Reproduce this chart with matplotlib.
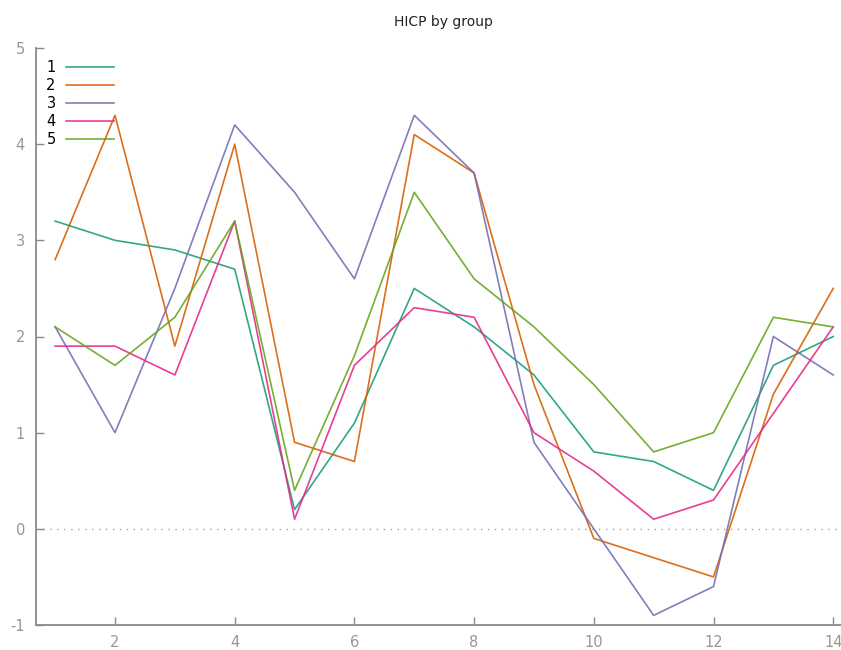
import matplotlib
matplotlib.use('Agg')
import matplotlib.pyplot as plt

plt.rcParams['axes.unicode_minus'] = False

# --- data ---
x = list(range(1, 15))
g1 = [3.2, 3.0, 2.9, 2.7, 0.2, 1.1, 2.5, 2.1, 1.6, 0.8, 0.7, 0.4, 1.7, 2.0]
g2 = [2.8, 4.3, 1.9, 4.0, 0.9, 0.7, 4.1, 3.7, 1.5, -0.1, -0.3, -0.5, 1.4, 2.5]
g3 = [2.1, 1.0, 2.5, 4.2, 3.5, 2.6, 4.3, 3.7, 0.9, 0.0, -0.9, -0.6, 2.0, 1.6]
g4 = [1.9, 1.9, 1.6, 3.2, 0.1, 1.7, 2.3, 2.2, 1.0, 0.6, 0.1, 0.3, 1.2, 2.1]
g5 = [2.1, 1.7, 2.2, 3.2, 0.4, 1.8, 3.5, 2.6, 2.1, 1.5, 0.8, 1.0, 2.2, 2.1]
labels = ['1', '2', '3', '4', '5']
colors = ['#1b9e77', '#d95f02', '#7570b3', '#e7298a', '#66a61e']

fig = plt.figure(figsize=(8.41, 6.5), dpi=100)
ax = fig.add_axes([36 / 841, 25 / 650, 805 / 841, 577 / 650])

for ys, lab, c in zip([g1, g2, g3, g4, g5], labels, colors):
    ax.plot(x, ys, color=c, lw=1.2, alpha=0.9, label=lab)

# dotted zero line
ax.axhline(0, color='#a0a0a0', lw=1, linestyle=(0, (1, 4)), zorder=0)

ax.set_xlim(0.68, 14.13)
ax.set_ylim(-1, 5)
ax.set_xticks([2, 4, 6, 8, 10, 12, 14])
ax.set_yticks([-1, 0, 1, 2, 3, 4, 5])

for side in ['top', 'right']:
    ax.spines[side].set_visible(False)
for side in ['left', 'bottom']:
    ax.spines[side].set_color('#8a8a8a')
    ax.spines[side].set_linewidth(1.3)
ax.tick_params(direction='in', length=6, width=1, color='#8a8a8a',
               labelcolor='#9c958c', labelsize=10.5)
ax.tick_params(axis='x', pad=7)
ax.tick_params(axis='y', pad=8)

ax.legend(loc='upper left', bbox_to_anchor=(0.0, 0.997), frameon=False,
          markerfirst=False, fontsize=10.5, handlelength=3.3,
          handletextpad=0.7, labelspacing=0.2, borderaxespad=0.3)

fig.text(443 / 841, 1 - 22 / 650, 'HICP by group', ha='center', va='center',
         fontsize=10, color='#222222')

fig.savefig('out.png', dpi=100)
